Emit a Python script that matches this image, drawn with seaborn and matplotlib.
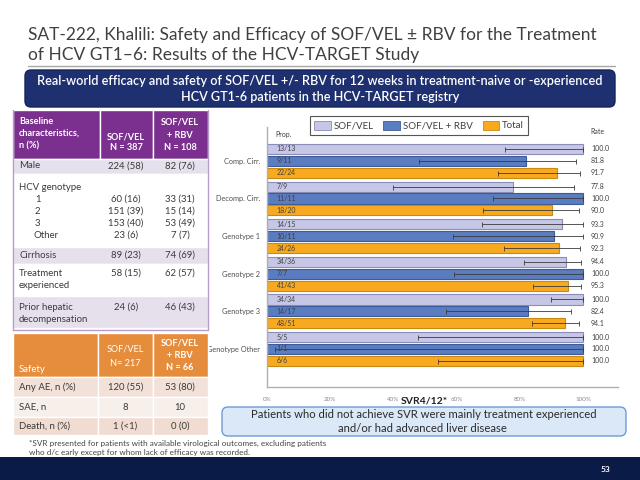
import numpy as np
import pandas as pd
import matplotlib
matplotlib.use("Agg")
import matplotlib.pyplot as plt
import matplotlib.transforms as mtransforms
from matplotlib.patches import FancyBboxPatch, Rectangle, Patch
from matplotlib.lines import Line2D
import seaborn as sns

# ---------------- data ----------------
groups = ["Comp. Cirr.", "Decomp. Cirr.", "Genotype 1", "Genotype 2", "Genotype 3", "Genotype Other"]
arms = ["SOF/VEL", "SOF/VEL + RBV", "Total"]

rate_sofvel = [100.0, 77.8, 93.3, 94.4, 100.0, 100.0]
rate_rbv = [81.8, 100.0, 90.9, 100.0, 82.4, 100.0]
rate_total = [91.7, 90.0, 92.3, 95.3, 94.1, 100.0]

prop_sofvel = ["13/13", "7/9", "14/15", "34/36", "34/34", "5/5"]
prop_rbv = ["9/11", "11/11", "10/11", "7/7", "14/17", "1/1"]
prop_total = ["22/24", "18/20", "24/26", "41/43", "48/51", "6/6"]

ci_low_sofvel = [75.3, 40.0, 68.1, 81.3, 89.7, 47.8]
ci_high_sofvel = [100.0, 97.2, 99.8, 99.3, 100.0, 100.0]
ci_low_rbv = [48.2, 71.5, 58.7, 59.0, 56.6, 2.5]
ci_high_rbv = [97.7, 100.0, 99.8, 100.0, 96.2, 100.0]
ci_low_total = [73.0, 68.3, 74.9, 84.2, 83.8, 54.1]
ci_high_total = [99.0, 98.8, 99.1, 99.4, 98.8, 100.0]

x_ticks = [0, 20, 40, 60, 80, 100]
x_tick_labels = ["0%", "20%", "40%", "60%", "80%", "100%"]

base_rows = ["Male", "HCV genotype", "Cirrhosis", "Treatment\nexperienced", "Prior hepatic\ndecompensation"]
base_sofvel = ["224 (58)", "", "89 (23)", "58 (15)", "24 (6)"]
base_rbv = ["82 (76)", "", "74 (69)", "62 (57)", "46 (43)"]
geno_labels = ["1", "2", "3", "Other"]
geno_sofvel = ["60 (16)", "151 (39)", "153 (40)", "23 (6)"]
geno_rbv = ["33 (31)", "15 (14)", "53 (49)", "7 (7)"]

safety_rows = ["Any AE, n (%)", "SAE, n", "Death, n (%)"]
safety_sofvel = ["120 (55)", "8", "1 (<1)"]
safety_rbv = ["53 (80)", "10", "0 (0)"]

# ---------------- style ----------------
sns.set_style("white")
plt.rcParams['font.family'] = ['Lato', 'DejaVu Sans']

bar_colors = ["#c6c6e6", "#5a7cc0", "#f8a91f"]
edge_colors = ["#8c8cb8", "#3d5b98", "#c98a12"]
navy = "#1e3070"
purple = "#7b2f8e"
orange = "#e58d3d"
body = "#3a3a3a"

W, H = 640, 480
fig = plt.figure(figsize=(6.4, 4.8), dpi=100)
fig.patch.set_facecolor("white")
T = mtransforms.Affine2D().scale(1 / W, -1 / H).translate(0, 1) + fig.transFigure
renderer = fig.canvas.get_renderer()


def box(x0, y0, x1, y1, fc, ec='none', lw=0, r=0, z=1):
    if r:
        p = FancyBboxPatch((x0, y0), x1 - x0, y1 - y0,
                           boxstyle=f"round,pad=0,rounding_size={r}",
                           fc=fc, ec=ec, lw=lw, transform=T, zorder=z)
    else:
        p = Rectangle((x0, y0), x1 - x0, y1 - y0, fc=fc, ec=ec, lw=lw,
                      transform=T, zorder=z)
    fig.add_artist(p)
    return p


def txt(x, y, s, size=7, color=body, ha='left', va='center', width=None, **kw):
    t = fig.text(x, y, s, fontsize=size, color=color, ha=ha, va=va,
                 transform=T, zorder=5, **kw)
    if width:
        bb = t.get_window_extent(renderer)
        t.set_fontsize(size * width / bb.width)
    return t


# ---------------- title ----------------
t1 = txt(28, 35, "SAT-222, Khalili: Safety and Efficacy of SOF/VEL ± RBV for the Treatment",
         size=14, color="#404040", width=570)
txt(28, 55, "of HCV GT1–6: Results of the HCV-TARGET Study", size=t1.get_fontsize(), color="#404040")
fig.add_artist(Line2D([28, 615], [66, 66], transform=T, color="#a8a8a8", lw=1))

box(25, 70, 615, 107, navy, ec="#15255a", lw=1, r=6, z=2)
b1 = txt(320, 81, "Real-world efficacy and safety of SOF/VEL +/- RBV for 12 weeks in treatment-naive or -experienced",
         size=9, color="white", ha='center', width=567, fontweight='semibold')
txt(320, 97, "HCV GT1-6 patients in the HCV-TARGET registry", size=b1.get_fontsize(),
    color="white", ha='center', fontweight='semibold')

# ---------------- baseline table ----------------
c1, c2, c3, c4 = 13, 100, 153, 208
col2c, col3c = 126, 180
box(c1, 110, c2, 159, purple, ec='white', lw=1)
box(c2, 110, c3, 159, purple, ec='white', lw=1)
box(c3, 110, c4, 159, purple, ec='white', lw=1)
hs = 6.6
txt(19, 121, "Baseline", size=hs, color='white', fontweight='bold')
txt(19, 133, "characteristics,", size=hs, color='white', fontweight='bold')
txt(19, 146, "n (%)", size=hs, color='white', fontweight='bold')
txt(col2c, 137, "SOF/VEL", size=hs, color='white', ha='center', fontweight='bold')
txt(col2c, 148, "N = 387", size=hs, color='white', ha='center', fontweight='bold')
txt(col3c, 122, "SOF/VEL", size=hs, color='white', ha='center', fontweight='bold')
txt(col3c, 135, "+ RBV", size=hs, color='white', ha='center', fontweight='bold')
txt(col3c, 147, "N = 108", size=hs, color='white', ha='center', fontweight='bold')

row_bands = [(159, 174), (174, 247), (247, 264), (264, 296), (296, 328)]
row_fill = ["#e6e0ec", "white", "#e6e0ec", "white", "#e6e0ec"]
bs = 6.9
for (y0, y1), fc in zip(row_bands, row_fill):
    box(c1, y0, c4, y1, fc, ec='white', lw=1)
fig.add_artist(Line2D([c1, c1], [110, 330], transform=T, color="#b79cc7", lw=1, zorder=3))
fig.add_artist(Line2D([c4, c4], [110, 330], transform=T, color="#b79cc7", lw=1, zorder=3))
fig.add_artist(Line2D([c1, c4], [330, 330], transform=T, color="#b79cc7", lw=1, zorder=3))

row_text_y = [166, 187, 255.5, 273, 307]
for lab, v1, v2, y in zip(base_rows, base_sofvel, base_rbv, row_text_y):
    lines = lab.split("\n")
    for k, ln in enumerate(lines):
        txt(19, y + k * 13, ln, size=bs)
    if v1:
        txt(col2c, y, v1, size=bs, ha='center')
        txt(col3c, y, v2, size=bs, ha='center')
for k, (g, v1, v2) in enumerate(zip(geno_labels, geno_sofvel, geno_rbv)):
    y = 199 + k * 12
    txt(33 if g == "Other" else 35, y, g, size=bs)
    txt(col2c, y, v1, size=bs, ha='center')
    txt(col3c, y, v2, size=bs, ha='center')

# ---------------- safety table ----------------
s2 = 98
box(c1, 333, s2, 377, orange, ec='white', lw=1)
box(s2, 333, c3, 377, orange, ec='white', lw=1)
box(c3, 333, c4, 377, orange, ec='white', lw=1)
txt(19, 369, "Safety", size=bs, color='white')
txt(125.5, 349, "SOF/VEL", size=hs, color='white', ha='center')
txt(125.5, 363, "N= 217", size=hs, color='white', ha='center')
txt(col3c, 343, "SOF/VEL", size=hs, color='white', ha='center', fontweight='bold')
txt(col3c, 356, "+ RBV", size=hs, color='white', ha='center', fontweight='bold')
txt(col3c, 368, "N = 66", size=hs, color='white', ha='center', fontweight='bold')
s_bands = [(377, 397), (397, 417), (417, 435)]
s_fill = ["#f1e1d8", "#f7efea", "#f1dcd1"]
for (y0, y1), fc, lab, v1, v2 in zip(s_bands, s_fill, safety_rows, safety_sofvel, safety_rbv):
    for xa, xb in [(c1, s2), (s2, c3), (c3, c4)]:
        box(xa, y0, xb, y1, fc, ec='white', lw=1)
    y = (y0 + y1) / 2
    txt(19, y, lab, size=bs)
    txt(125.5, y, v1, size=bs, ha='center')
    txt(col3c, y, v2, size=bs, ha='center')

f1 = txt(29, 443, "*SVR presented for patients with available virological outcomes, excluding patients",
         size=5.5, color="#444444", width=295)
txt(29, 453, "who d/c early except for whom lack of efficacy was recorded.", size=f1.get_fontsize(), color="#444444")

# ---------------- bottom bar ----------------
box(0, 457, 640, 480, "#0b1b47", z=2)
txt(605, 469, "53", size=6, color="white", ha='center', fontweight='bold')

# ---------------- chart ----------------
df = pd.DataFrame({
    "group": groups * 3,
    "arm": [arms[0]] * 6 + [arms[1]] * 6 + [arms[2]] * 6,
    "rate": rate_sofvel + rate_rbv + rate_total,
})
props = [prop_sofvel, prop_rbv, prop_total]
rates = [rate_sofvel, rate_rbv, rate_total]
lows = [ci_low_sofvel, ci_low_rbv, ci_low_total]
highs = [ci_high_sofvel, ci_high_rbv, ci_high_total]

ax = fig.add_axes([267 / W, 1 - 387 / H, 351 / W, 260 / H])
sns.barplot(data=df, x="rate", y="group", hue="arm", order=groups, hue_order=arms,
            palette=bar_colors, saturation=1, width=0.95, gap=0.15, orient="h",
            legend=False, ax=ax, errorbar=None)

slot = 0.95 / 3
for p in ax.patches:
    cy = p.get_y() + p.get_height() / 2
    gi = int(round(cy))
    ai = int(round((cy - gi) / slot)) + 1
    p.set_edgecolor(edge_colors[ai])
    p.set_linewidth(0.8)
    r = rates[ai][gi]
    lo, hi = lows[ai][gi], highs[ai][gi]
    ax.errorbar([r], [cy], xerr=[[r - lo], [hi - r]], fmt='none', ecolor="#3a3a3a",
                elinewidth=0.6, capsize=1.8, capthick=0.6, zorder=4)
    ax.text(3, cy, props[ai][gi], fontsize=5, color="#404040", va='center', zorder=5)
    ax.text(102.5, cy, f"{r:.1f}", fontsize=5, color="#404040", va='center', zorder=5, clip_on=False)

ax.set_xlim(0, 111)
ax.set_ylim(len(groups) - 1 + 1.01, -0.9)
ax.set_xticks(x_ticks)
ax.set_xticklabels(x_tick_labels, fontsize=4.5, color="#8a8a8a")
ax.tick_params(axis='x', length=0, pad=7)
ax.tick_params(axis='y', length=0, pad=5, labelsize=5.3, labelcolor="#505050")
ax.set_xlabel("")
ax.set_ylabel("")
for s in ["top", "right"]:
    ax.spines[s].set_visible(False)
for s in ["left", "bottom"]:
    ax.spines[s].set_color("#b0b0b0")
    ax.spines[s].set_linewidth(1)

txt(275, 134, "Prop.", size=5, color="#404040")
txt(590, 132, "Rate", size=5, color="#404040")
txt(424, 401, "SVR4/12*", size=7.5, color="#222222", ha='center', fontweight='bold')

handles = [Patch(fc=c, ec=e, lw=0.6) for c, e in zip(bar_colors, edge_colors)]
leg = fig.legend(handles, arms, loc='center', bbox_to_anchor=(419 / W, 1 - 125.5 / H), ncol=3,
                 frameon=True, fancybox=False, edgecolor="#555555", framealpha=1,
                 fontsize=7, handlelength=1.7, handleheight=1.1, columnspacing=1.0,
                 handletextpad=0.3, borderpad=0.45)
leg.get_frame().set_linewidth(0.8)
for t in leg.get_texts():
    t.set_color("#404040")

# ---------------- bottom callout ----------------
box(222, 407, 626, 436, "#dbe8f8", ec="#6c9bd6", lw=1, r=6, z=2)
k1 = txt(424, 414.5, "Patients who did not achieve SVR were mainly treatment experienced",
         size=9, color="#2a2a2a", ha='center', width=349)
txt(422, 428, "and/or had advanced liver disease", size=k1.get_fontsize(), color="#2a2a2a", ha='center')

fig.savefig("out.png", dpi=100)
